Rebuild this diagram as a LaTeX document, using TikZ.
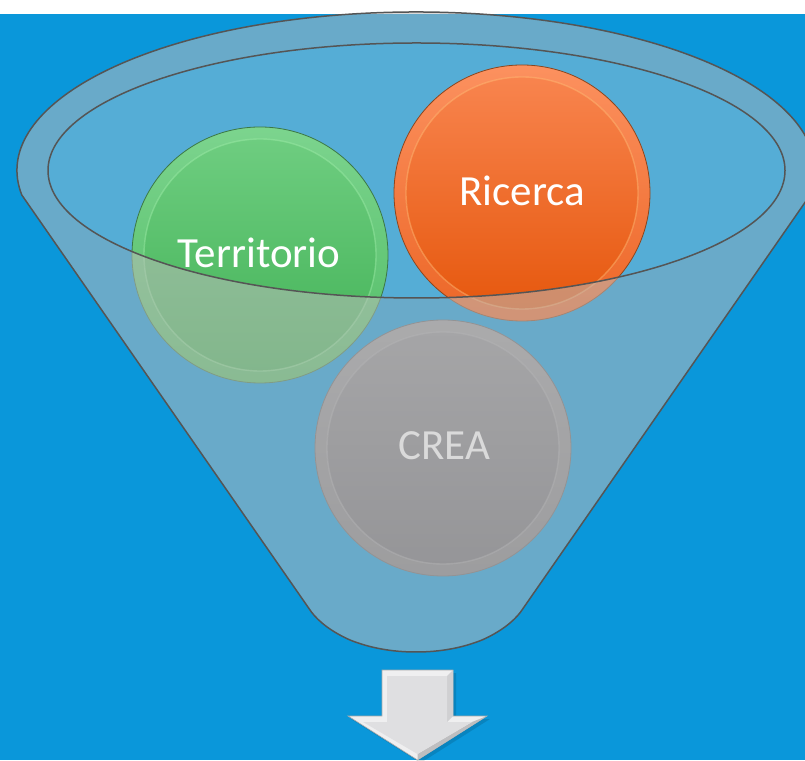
\documentclass[tikz,border=0pt]{standalone}
\usepackage{fontspec}
\setmainfont{Carlito}
\definecolor{bgblue}{RGB}{10,151,218}
\definecolor{innerblue}{RGB}{85,173,214}
\definecolor{frontgray}{RGB}{187,187,187}
\definecolor{edgegray}{RGB}{85,85,85}
\definecolor{grA}{RGB}{124,212,142}
\definecolor{grB}{RGB}{80,188,100}
\definecolor{grC}{RGB}{110,205,128}
\definecolor{grD}{RGB}{66,178,86}
\definecolor{grE}{RGB}{160,238,170}
\definecolor{grF}{RGB}{60,120,70}
\definecolor{orA}{RGB}{252,145,95}
\definecolor{orB}{RGB}{236,102,38}
\definecolor{orC}{RGB}{248,132,78}
\definecolor{orD}{RGB}{230,88,14}
\definecolor{orE}{RGB}{255,190,120}
\definecolor{orF}{RGB}{140,70,30}
\definecolor{gyA}{RGB}{152,152,155}
\definecolor{gyB}{RGB}{122,122,126}
\definecolor{gyC}{RGB}{140,140,144}
\definecolor{gyD}{RGB}{106,106,112}
\definecolor{gyE}{RGB}{175,175,178}
\definecolor{gyF}{RGB}{100,100,104}
\definecolor{arA}{RGB}{239,239,240}
\definecolor{arB}{RGB}{168,168,168}
\definecolor{arC}{RGB}{208,208,210}
\definecolor{arD}{RGB}{190,190,192}
\definecolor{arE}{RGB}{223,223,225}
\newcommand\myfunnelpath{(21.8,565) arc[start angle=188.9, end angle=-8.9, x radius=399pt, y radius=158.5pt]
  -- (520.6,148) .. controls (513,138) and (500,128) .. (482,120)
  .. controls (462,112) and (440,108) .. (416,108)
  .. controls (392,108) and (370,112) .. (350,120)
  .. controls (332,128) and (319,138) .. (311.4,148) -- cycle}
\begin{document}
\begin{tikzpicture}[x=1pt,y=1pt,
  ball/.style={circle, minimum size=256pt, inner sep=0pt, line width=0.8pt},
  ballin/.style={circle, minimum size=232pt, inner sep=0pt, line width=1.4pt, draw opacity=0.45},
  lbl/.style={text=white, font=\fontsize{43}{50}\selectfont, anchor=base, inner sep=0pt}]
\useasboundingbox (0,0) rectangle (805,760);
\fill[white] (0,0) rectangle (805,760);
\fill[bgblue] (0,0) rectangle (805,746);
% back of funnel
\fill[innerblue] (416.5,589.5) ellipse [x radius=368.5pt, y radius=127.5pt];
% balls
\node[ball, draw=grF, top color=grA, bottom color=grB] (terr) at (260,505) {};
\node[ballin, draw=grE, top color=grC, bottom color=grD] (terrin) at (terr.center) {};
\node[ball, draw=orF, top color=orA, bottom color=orB] (ric) at (522,567) {};
\node[ballin, draw=orE, top color=orC, bottom color=orD] (ricin) at (ric.center) {};
\node[ball, draw=gyF, top color=gyA, bottom color=gyB] (crea) at (443,312) {};
\node[ballin, draw=gyE, top color=gyC, bottom color=gyD] (creain) at (crea.center) {};
\node[lbl] (terrtxt) at (259,492) {Territorio};
\node[lbl] (rictxt) at (522,554) {Ricerca};
\node[lbl] (creatxt) at (444.5,300) {CREA};
% front of funnel
\fill[frontgray, fill opacity=0.54, even odd rule] \myfunnelpath
  (416.5,589.5) ellipse [x radius=368.5pt, y radius=127.5pt];
\draw[edgegray, line width=1.5pt, line join=round] \myfunnelpath;
\draw[edgegray, line width=1.5pt] (416.5,589.5) ellipse [x radius=368.5pt, y radius=127.5pt];
% arrow
\fill[black, opacity=0.12] (385,87) -- (456,87) -- (456,41) -- (490,41) -- (420.5,-3) -- (351,41) -- (385,41) -- cycle;
\filldraw[fill=arA, draw=arB, line width=0.6pt] (382,90) -- (453,90) -- (453,44) -- (487,44) -- (417.5,0) -- (348,44) -- (382,44) -- cycle;
\fill[arC] (453,90) -- (453,44) -- (447,38) -- (447,84) -- cycle;
\fill[arD] (487,44) -- (417.5,0) -- (417.5,6) -- (472,38) -- cycle;
\fill[arE] (387,84) -- (447,84) -- (447,38) -- (472,38) -- (417.5,6) -- (363,38) -- (387,38) -- cycle;
\end{tikzpicture}
\end{document}
